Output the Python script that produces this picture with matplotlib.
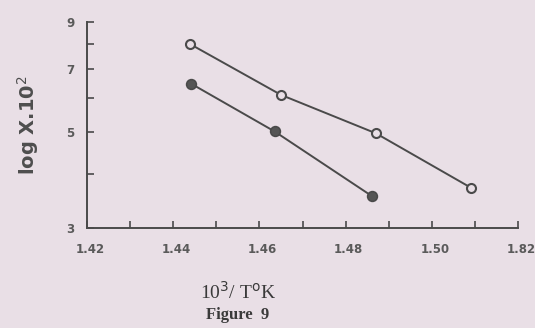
import matplotlib.pyplot as plt
import matplotlib.transforms as mtransforms
from matplotlib.ticker import FixedLocator, NullFormatter

# 10^3/T values and log X.10^2 for the two series
xOpen = [1.4439, 1.4650, 1.4870, 1.5090]
yOpen = [8.0, 6.1, 4.97, 3.72]
xFilled = [1.4441, 1.4635, 1.4860]
yFilled = [6.48, 5.02, 3.56]

xTicks = [1.42, 1.44, 1.46, 1.48, 1.50, 1.52]
xTickLabels = ['1.42', '1.44', '1.46', '1.48', '1.50', '1.82']
yTicks = [3, 5, 7, 9]

bg = '#e9dfe6'
ink = '#4a4a4a'

fig = plt.figure(figsize=(5.35, 3.28), dpi=100, facecolor=bg)
ax = fig.add_axes([0.1626, 0.305, 0.806, 0.628], facecolor=bg)

ax.plot(xOpen, yOpen, '-o', color=ink, lw=1.4, ms=6.5, mfc=bg, mec=ink, mew=1.5)
ax.plot(xFilled, yFilled, '-o', color=ink, lw=1.4, ms=7, mfc='#555555', mec=ink, mew=1.2)

ax.set_yscale('log')
ax.set_xlim(1.42, 1.52)
ax.set_ylim(3, 9)

ax.xaxis.set_major_locator(FixedLocator(xTicks))
ax.xaxis.set_minor_locator(FixedLocator([1.43, 1.45, 1.47, 1.49, 1.51]))
ax.set_xticklabels(xTickLabels)
ax.yaxis.set_major_locator(FixedLocator(yTicks))
ax.yaxis.set_minor_locator(FixedLocator([4, 6, 8]))
ax.set_yticklabels([str(v) for v in yTicks])
ax.yaxis.set_minor_formatter(NullFormatter())

for side in ['top', 'right']:
    ax.spines[side].set_visible(False)
for side in ['left', 'bottom']:
    ax.spines[side].set_color(ink)
    ax.spines[side].set_linewidth(1.4)

ax.tick_params(which='both', direction='in', length=5, width=1.2, color=ink,
               labelsize=8.5, labelcolor='#5a5a5a')
ax.tick_params(axis='x', pad=11)
ax.tick_params(axis='y', pad=9)

# labels on the x axis sit a little right of their ticks
shift = mtransforms.ScaledTranslation(3 / 100, 0, fig.dpi_scale_trans)
for lab in ax.get_xticklabels():
    lab.set_transform(lab.get_transform() + shift)
for lab in ax.get_xticklabels() + ax.get_yticklabels():
    lab.set_fontweight('bold')

ax.set_ylabel('log X.10$^2$', fontsize=14, fontweight='bold', color='#4e4e4e',
              family='DejaVu Sans', labelpad=18)
fig.text(0.445, 0.11, r'10$^3$/ T$^{\rm o}$K', fontsize=14, color='#3a3a3a',
         family='Liberation Serif', ha='center', va='center')
fig.text(0.445, 0.04, 'Figure  9', fontsize=12, color='#3a3a3a',
         family='Liberation Serif', fontweight='bold', ha='center', va='center')

plt.savefig('out.png', dpi=100, facecolor=bg)
